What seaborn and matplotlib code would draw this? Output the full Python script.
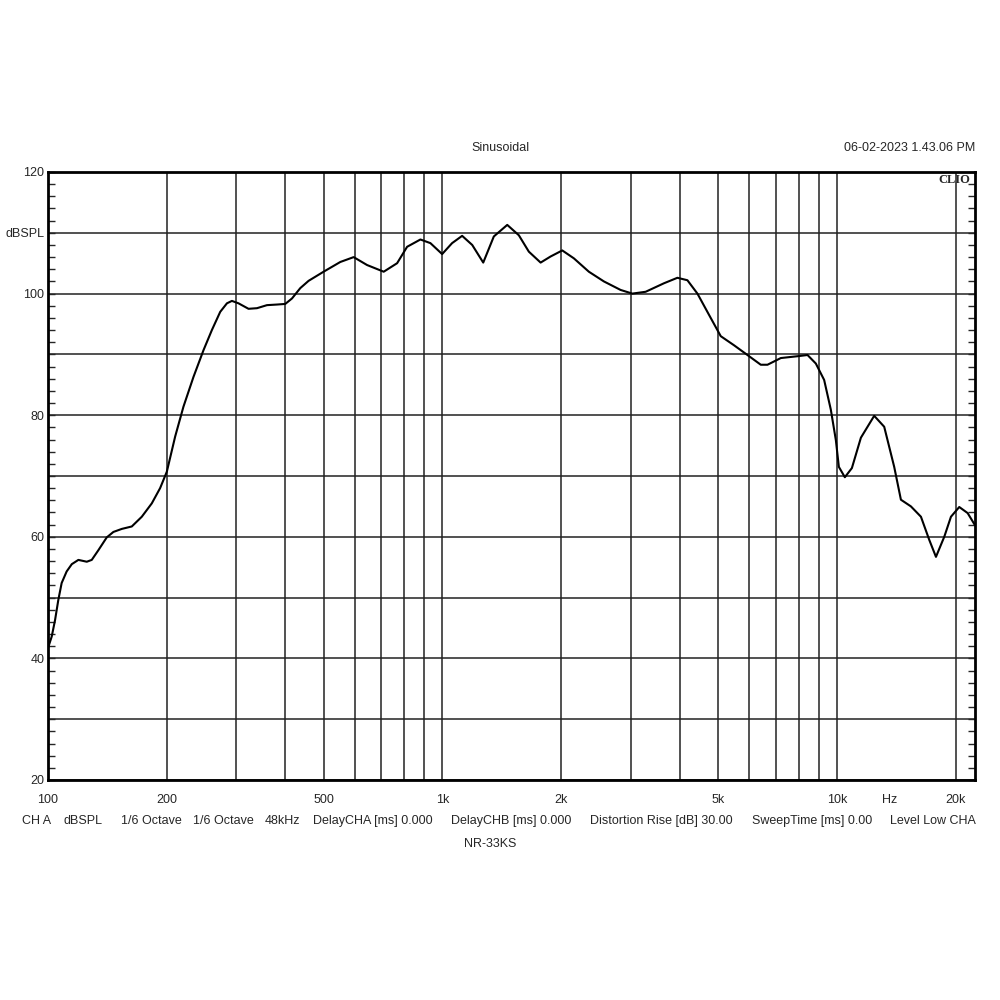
import numpy as np
import pandas as pd
import matplotlib
matplotlib.use("Agg")
import matplotlib.pyplot as plt
import seaborn as sns
from matplotlib.ticker import FixedLocator, MultipleLocator

# frequency response (Hz, dB SPL)
freq_hz = [100, 102.2, 104.2, 106.2, 108.3, 111.5, 114.9, 119.4, 125.4, 129.1,
           134.2, 140.9, 146.5, 153.9, 163.1, 172.9, 183.3, 192.4, 200.1, 210.1,
           220.5, 233.8, 247.9, 260.3, 273.3, 284.2, 292.6, 304.1, 322.4, 338.7,
           359.0, 380.6, 399.5, 415.5, 436.1, 457.8, 499.7, 550.9, 595.6, 644.0,
           709.8, 767.6, 813.7, 879.4, 932.3, 998.3, 1058, 1122, 1190, 1269,
           1350, 1460, 1562, 1656, 1774, 1880, 2013, 2154, 2351, 2567, 2830,
           3030, 3275, 3645, 3942, 4179, 4431, 4742, 5077, 5487, 5934, 6414,
           6670, 7210, 7948, 8426, 8845, 9285, 9655, 9942, 10118, 10478, 10917,
           11507, 12436, 13184, 13977, 14535, 15409, 16338, 17149, 17835, 18720,
           19467, 20433, 21460, 22400]
spl_db = [41.7, 43.6, 46.3, 49.6, 52.4, 54.3, 55.5, 56.2, 55.9, 56.2,
          57.8, 59.9, 60.8, 61.3, 61.7, 63.3, 65.5, 68.0, 70.7, 76.5,
          81.4, 86.3, 90.7, 94.0, 97.0, 98.4, 98.8, 98.4, 97.5, 97.6,
          98.1, 98.2, 98.3, 99.2, 100.9, 102.1, 103.6, 105.2, 106.0, 104.7,
          103.6, 105.0, 107.7, 108.9, 108.3, 106.5, 108.3, 109.5, 108.0, 105.1,
          109.4, 111.3, 109.6, 106.9, 105.1, 106.1, 107.1, 105.8, 103.6, 102.0, 100.6,
          100.0, 100.3, 101.7, 102.6, 102.2, 100.0, 96.5, 93.0, 91.5, 89.9, 88.3,
          88.3, 89.4, 89.7, 89.9, 88.5, 85.8, 80.9, 75.9, 71.5, 69.8, 71.3,
          76.3, 79.9, 78.1, 71.5, 66.1, 65.0, 63.3, 59.5, 56.7, 60.0,
          63.3, 64.9, 63.9, 61.9]

grid_freqs = [200, 300, 400, 500, 600, 700, 800, 900, 1000, 2000, 3000, 4000,
              5000, 6000, 7000, 8000, 9000, 10000, 20000]
x_tick_pos = [100, 200, 500, 1000, 2000, 5000, 10000, 20000]
x_tick_lab = ["100", "200", "500", "1k", "2k", "5k", "10k", "20k"]
y_ticks = [20, 30, 40, 50, 60, 70, 80, 90, 100, 110, 120]
y_labels = ["20", "", "40", "", "60", "", "80", "", "100", "dBSPL", "120"]

footer_items = ["CH A", "dBSPL", "1/6 Octave", "1/6 Octave", "48kHz",
                "DelayCHA [ms] 0.000", "DelayCHB [ms] 0.000",
                "Distortion Rise [dB] 30.00", "SweepTime [ms] 0.00", "Level Low CHA"]
footer_x = [0.022, 0.064, 0.121, 0.193, 0.265, 0.3127, 0.451, 0.590, 0.7517, 0.890]

sns.set_style("white")
plt.rcParams["font.family"] = ["Liberation Sans", "DejaVu Sans"]

df = pd.DataFrame({"Frequency": freq_hz, "SPL": spl_db})

fig = plt.figure(figsize=(10, 10), dpi=100)
ax = fig.add_axes([0.048, 0.22, 0.927, 0.608])

sns.lineplot(data=df, x="Frequency", y="SPL", ax=ax, color="black",
             linewidth=1.5, sort=False)
ax.lines[0].set_solid_joinstyle("round")

ax.set_xscale("log")
ax.set_xlim(100, 22400)
ax.set_ylim(20, 120)

ax.xaxis.set_minor_locator(FixedLocator([]))
ax.set_xticks(x_tick_pos)
ax.set_xticklabels(x_tick_lab)
for f in grid_freqs:
    ax.axvline(f, color="#222222", linewidth=1.1, zorder=0)

ax.set_yticks(y_ticks)
ax.set_yticklabels(y_labels)
ax.yaxis.set_minor_locator(MultipleLocator(2))
ax.grid(axis="y", which="major", color="#222222", linewidth=1.1)
ax.set_axisbelow(True)

ax.tick_params(axis="x", which="both", length=0, labelsize=9, pad=10)
ax.tick_params(axis="y", which="both", direction="in", length=5, width=1,
               left=True, right=True, labelsize=9, pad=2.5)

for s in ax.spines.values():
    s.set_color("black")
    s.set_linewidth(2)

ax.set_xlabel("")
ax.set_ylabel("")

ax.text(13600, -0.0225, "Hz", transform=ax.get_xaxis_transform(),
        ha="center", va="top", fontsize=9)
ax.text(0.995, 0.997, "CLIO", transform=ax.transAxes, ha="right", va="top",
        fontsize=9, fontweight="bold", family="Liberation Serif")

fig.text(0.5, 0.852, "Sinusoidal", ha="center", va="center", fontsize=9)
fig.text(0.975, 0.852, "06-02-2023 1.43.06 PM", ha="right", va="center", fontsize=9)
for lab, xpos in zip(footer_items, footer_x):
    fig.text(xpos, 0.179, lab, ha="left", va="center", fontsize=9)
fig.text(0.49, 0.156, "NR-33KS", ha="center", va="center", fontsize=9)

fig.savefig("out.png", dpi=100, facecolor="white")
